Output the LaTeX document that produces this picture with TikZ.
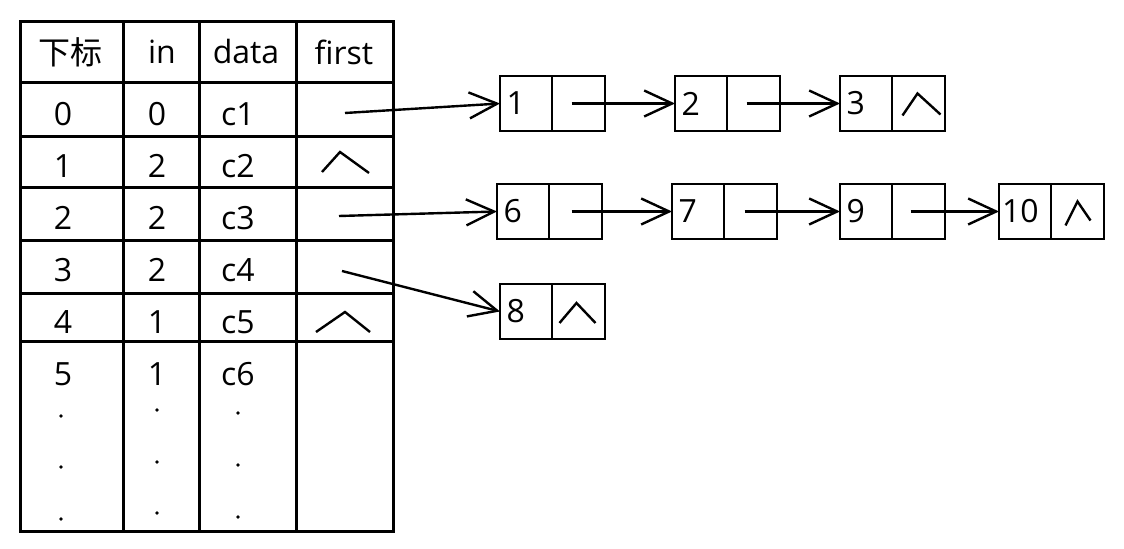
\documentclass[tikz,border=0pt]{standalone}
\usepackage{fontspec}
\setmainfont{Open Sans}
\newfontfamily\cjk{Noto Sans CJK SC}
\usepackage{tikz}
\usetikzlibrary{positioning}
\usetikzlibrary{arrows.meta}
\tikzset {
  x=0.5pt, y=-0.5pt,
  node distance={35pt},
  every node/.style={font=\fontsize{16}{19}\selectfont},
  >={Straight Barb[length=14pt,width=13pt]},
  % lines of the table
  grid/.style={line width=1.5pt},
  % the two halves of a list node
  cell/.style={draw, line width=1.3pt, outer sep=0pt, inner sep=0pt, minimum height=27.5pt},
  datacell/.style={cell, minimum width=26pt, text width=19.5pt, align=left, inner xsep=3.25pt},
  ptrcell/.style={cell, minimum width=26.5pt},
  % pointers
  link/.style={->, line width=1.2pt},
  % null pointer mark
  nil/.style={line width=1.2pt},
}

\begin{document}
\begin{tikzpicture}
  \useasboundingbox (0,0) rectangle (1124,549);

  % the table
  \draw[grid] (20,22) rectangle (393,532);
  \foreach \y in {83,137,188,241,294,342}
    \draw[grid] (20,\y) -- (393,\y);
  \foreach \x in {123,199,296}
    \draw[grid] (\x,22) -- (\x,532);

  \node (hidx) at (71,52) {\cjk 下标};
  \node (hin) at (162,52) {in};
  \node (hdata) at (246,52) {data};
  \node (hfirst) at (344,52) {first};

  \foreach \i/\n/\d [count=\r] in {0/0/c1, 1/2/c2, 2/2/c3, 3/2/c4, 4/1/c5, 5/1/c6} {
    \node (idx\i) at (63,62+52*\r) {\i};
    \node (in\i) at (157,62+52*\r) {\n};
    \node (dat\i) at (238,62+52*\r) {\d};
  }
  \foreach \y in {416,467,519} \fill (61,\y) circle (1.8);
  \foreach \y in {410,462,513} \fill (157,\y) circle (1.8);
  \foreach \y in {413,465,517} \fill (238,\y) circle (1.8);

  \draw[nil] (322,172) -- (340,152) -- (369,173);
  \draw[nil] (316,332) -- (345,312) -- (370,332);

  \coordinate (f0) at (345,113);
  \coordinate (f2) at (339,216);
  \coordinate (f3) at (342,271);

  % list of vertex 0
  \node[datacell] (d1) at (526,103.5) {1};
  \node[ptrcell, right=0pt of d1] (p1) {};
  \node[datacell, right=35pt of p1] (d2) {2};
  \node[ptrcell, right=0pt of d2] (p2) {};
  \node[datacell, right=30pt of p2] (d3) {3};
  \node[ptrcell, right=0pt of d3] (p3) {};

  % list of vertex 2
  \node[datacell] (d6) at (523,211.5) {6};
  \node[ptrcell, right=0pt of d6] (p6) {};
  \node[datacell, right=35pt of p6] (d7) {7};
  \node[ptrcell, right=0pt of d7] (p7) {};
  \node[datacell, right=31.5pt of p7] (d9) {9};
  \node[ptrcell, right=0pt of d9] (p9) {};
  \node[datacell, right=27pt of p9, inner xsep=1.5pt, text width=23pt] (d10) {10};
  \node[ptrcell, right=0pt of d10] (p10) {};

  % list of vertex 3
  \node[datacell] (d8) at (526,311.5) {8};
  \node[ptrcell, right=0pt of d8] (p8) {};

  \draw[link] (f0) -- (d1.west);
  \draw[link] ([xshift=-3.5pt]p1.center) -- (d2.west);
  \draw[link] ([xshift=-3.5pt]p2.center) -- (d3.west);
  \draw[link] (f2) -- (d6.west);
  \draw[link] ([xshift=-2pt]p6.center) -- (d7.west);
  \draw[link] ([xshift=-3pt]p7.center) -- (d9.west);
  \draw[link] ([xshift=-4pt]p9.center) -- (d10.west);
  \draw[link] (f3) -- (d8.west);

  \draw[nil, shift={(p3.center)}] (-16,12) -- (-1,-10) -- (22,11);
  \draw[nil, shift={(p8.center)}] (-19,11.5) -- (-2,-8.5) -- (17,11.5);
  \draw[nil, shift={(p10.center)}] (-12,14) -- (0,-10) -- (13,9);
\end{tikzpicture}
\end{document}
